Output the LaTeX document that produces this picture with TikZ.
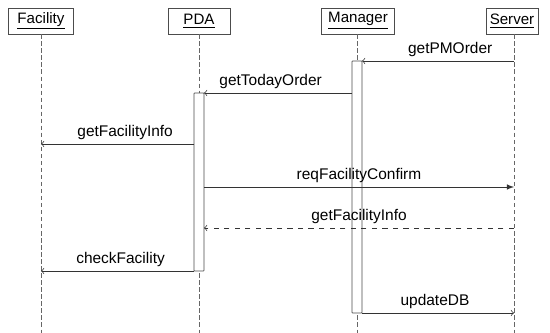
\documentclass[tikz,border=0pt]{standalone}
\usepackage{fontspec}
\setmainfont{Liberation Sans}
\usetikzlibrary{positioning, calc}

\tikzset{
  head/.style={draw=black!70, thin, minimum height=0.52cm, inner sep=1pt, font=\fontsize{8.6}{10}\selectfont},
  life/.style={draw=black!60, thin, dash pattern=on 2.5pt off 1.5pt},
  act/.style={draw=black!70, thin, fill=white, minimum width=0.2cm, inner sep=0pt, rounded corners=0.3pt},
  msg/.style={draw=black!80, thin},
  lbl/.style={pos=0.5, above, font=\fontsize{8.8}{10}\selectfont, inner sep=2.5pt}
}

\begin{document}
\begin{tikzpicture}[x=0.02cm, y=-0.02cm]
  \useasboundingbox (0,0) rectangle (550,333);
  % object heads
  \node (fac) at (41,21) [head, minimum width=1.3cm] {\underline{Facility}};
  \node (pda) at (199,21) [head, minimum width=1.24cm] {\underline{PDA}};
  \node (mgr) at (358,21) [head, minimum width=1.46cm] {\underline{Manager}};
  \node (srv) at (512,21) [head, minimum width=1.04cm] {\underline{Server}};

  % lifeline ends
  \coordinate (facend) at (41,333);
  \coordinate (pdaend) at (199,333);
  \coordinate (mgrend) at (357,333);
  \coordinate (srvend) at (514,333);
  \draw[life] (fac.south) -- (facend);
  \draw[life] (pda.south) -- (pdaend);
  \draw[life] (mgr.south -| mgrend) -- (mgrend);
  \draw[life] (srv.south -| srvend) -- (srvend);

  % activations
  \node (mgract) at (357,187) [act, minimum height=5.04cm] {};
  \node (pdaact) at (199,182) [act, minimum height=3.56cm] {};

  % message end points
  \coordinate (s1) at (514,61);   \coordinate (m1) at (362,61);
  \coordinate (m2) at (352,93);   \coordinate (p2) at (204,93);
  \coordinate (p3) at (194,144);  \coordinate (f3) at (41,144);
  \coordinate (p4) at (204,187);  \coordinate (s4) at (514,187);
  \coordinate (s5) at (514,228);  \coordinate (p5) at (204,228);
  \coordinate (p6) at (194,271);  \coordinate (f6) at (41,271);
  \coordinate (m7) at (362,313);  \coordinate (s7) at (514,313);

  % messages
  \draw[msg, ->] (s1) -- node[lbl, pos=0.42]{getPMOrder} (m1);
  \draw[msg, ->] (m2) -- node[lbl, pos=0.55]{getTodayOrder} (p2);
  \draw[msg, ->] (p3) -- node[lbl, pos=0.45]{getFacilityInfo} (f3);
  \draw[msg, -latex] (p4) -- node[lbl]{reqFacilityConfirm} (s4);
  \draw[msg, ->, dashed] (s5) -- node[lbl]{getFacilityInfo} (p5);
  \draw[msg, ->] (p6) -- node[lbl, pos=0.48]{checkFacility} (f6);
  \draw[msg, ->] (m7) -- node[lbl, pos=0.48]{updateDB} (s7);
\end{tikzpicture}
\end{document}
